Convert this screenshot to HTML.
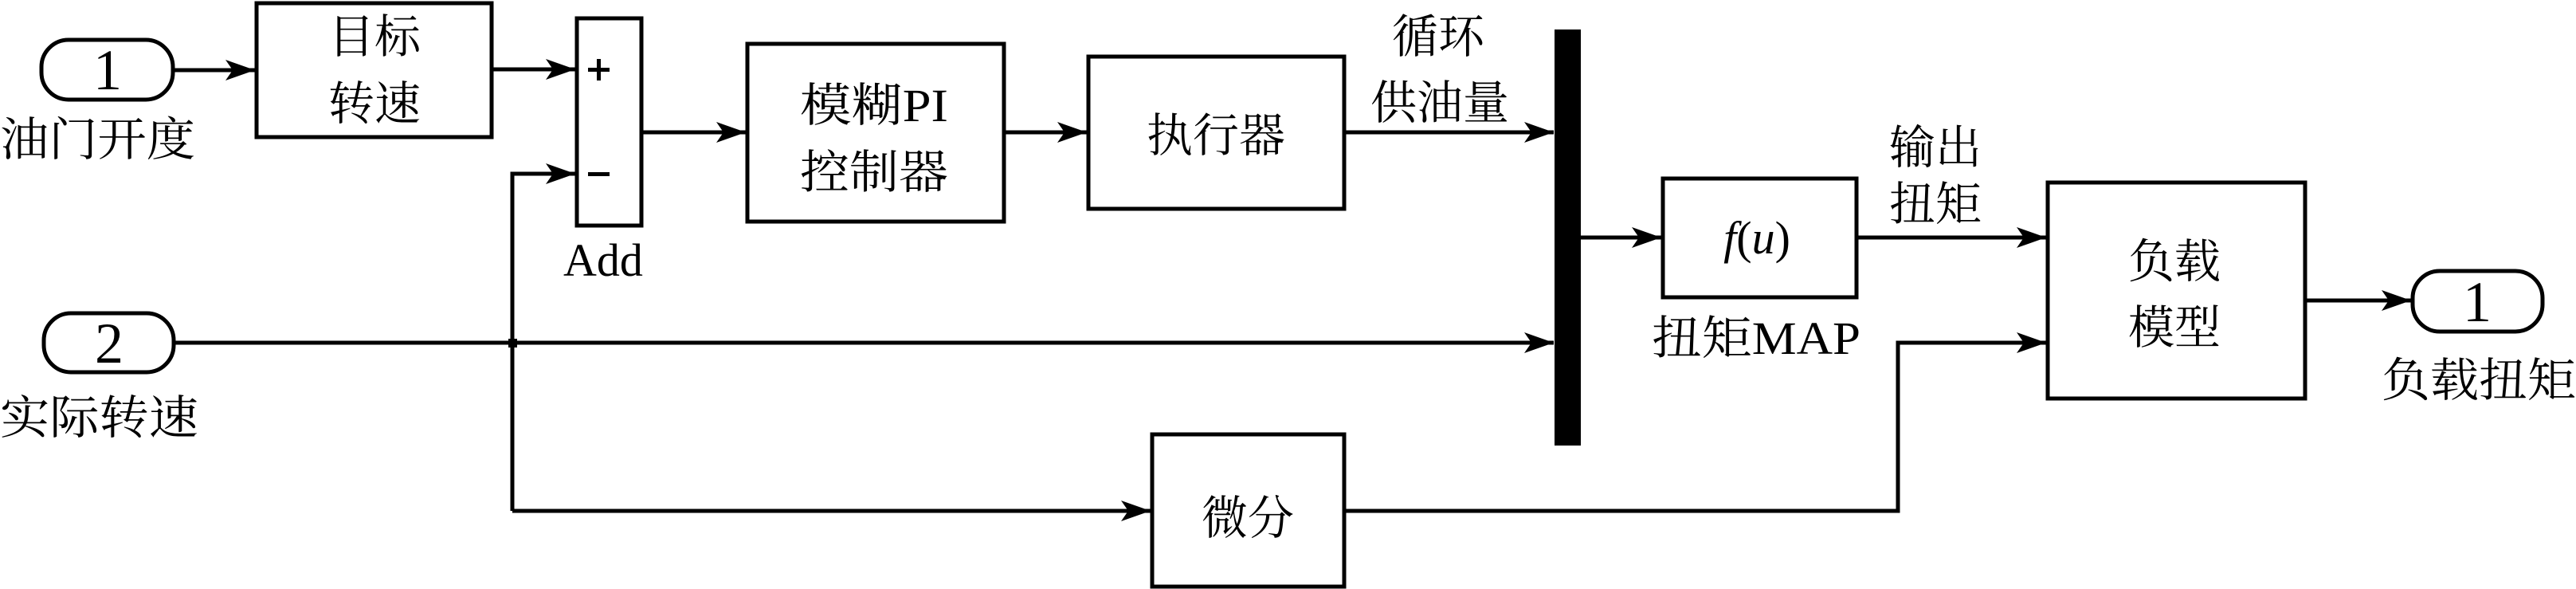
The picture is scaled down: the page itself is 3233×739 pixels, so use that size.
<!DOCTYPE html>
<html><head><meta charset="utf-8"><style>
html,body{margin:0;padding:0;background:#fff;}
svg{display:block;}
.c{font-family:"Liberation Serif","Noto Serif CJK SC",serif;font-size:58px;fill:#000;}
.n{font-family:"Liberation Serif",serif;font-size:72px;fill:#000;}
</style></head><body>
<svg width="3233" height="739" viewBox="0 0 3233 739" xmlns="http://www.w3.org/2000/svg">
<defs>
<marker id="a" markerWidth="38" markerHeight="28" refX="37" refY="14" orient="auto" markerUnits="userSpaceOnUse">
<path d="M0,1 L37,14 L0,27 L9,14 Z" fill="#000"/>
</marker>
</defs>
<g fill="none" stroke="#000" stroke-width="5">
<!-- inports / outport -->
<rect x="52" y="50" width="165" height="75" rx="34"/>
<rect x="55" y="393" width="163" height="74" rx="34"/>
<rect x="3028" y="340" width="163" height="76" rx="34"/>
<!-- boxes -->
<rect x="322" y="4" width="295" height="168"/>
<rect x="724" y="23" width="81" height="260"/>
<rect x="938" y="55" width="322" height="223"/>
<rect x="1366" y="71" width="321" height="191"/>
<rect x="2087" y="224" width="243" height="149"/>
<rect x="2570" y="229" width="323" height="271"/>
<rect x="1446" y="545" width="241" height="191"/>
<!-- lines -->
<line x1="217" y1="88" x2="320" y2="88" marker-end="url(#a)"/>
<line x1="617" y1="87" x2="722" y2="87" marker-end="url(#a)"/>
<polyline points="643,641 643,218 722,218" marker-end="url(#a)"/>
<line x1="805" y1="166" x2="936" y2="166" marker-end="url(#a)"/>
<line x1="1260" y1="166" x2="1364" y2="166" marker-end="url(#a)"/>
<line x1="1687" y1="166" x2="1950" y2="166" marker-end="url(#a)"/>
<line x1="218" y1="430" x2="1950" y2="430" marker-end="url(#a)"/>
<line x1="643" y1="641" x2="1444" y2="641" marker-end="url(#a)"/>
<line x1="1984" y1="298" x2="2085" y2="298" marker-end="url(#a)"/>
<line x1="2330" y1="298" x2="2568" y2="298" marker-end="url(#a)"/>
<polyline points="1687,641 2382,641 2382,430 2568,430" marker-end="url(#a)"/>
<line x1="2893" y1="377" x2="3026" y2="377" marker-end="url(#a)"/>
</g>
<rect x="638" y="425" width="11" height="11" fill="#000"/>
<rect x="1951" y="37" width="33" height="522" fill="#000"/>
<!-- plus/minus -->
<rect x="738" y="85" width="27" height="5" fill="#000"/>
<rect x="749" y="74" width="5" height="27" fill="#000"/>
<rect x="738" y="216" width="27" height="5" fill="#000"/>
<!-- numbers -->
<text class="n" x="135" y="112" text-anchor="middle">1</text>
<text class="n" x="137" y="455" text-anchor="middle">2</text>
<text class="n" x="3109" y="403" text-anchor="middle">1</text>
<!-- labels -->
<text class="c" x="0" y="195" textLength="245" lengthAdjust="spacingAndGlyphs">油门开度</text>
<text class="c" x="0" y="544" textLength="249" lengthAdjust="spacingAndGlyphs">实际转速</text>
<text class="c" x="470" y="66" text-anchor="middle">目标</text>
<text class="c" x="470" y="150" text-anchor="middle">转速</text>
<text class="c" x="757" y="346" text-anchor="middle">Add</text>
<text class="c" x="1004" y="152" textLength="186" lengthAdjust="spacingAndGlyphs">模糊PI</text>
<text class="c" x="1004" y="236" textLength="186" lengthAdjust="spacingAndGlyphs">控制器</text>
<text class="c" x="1526" y="190" text-anchor="middle">执行器</text>
<text class="c" x="1805" y="66" text-anchor="middle">循环</text>
<text class="c" x="1807" y="149" text-anchor="middle">供油量</text>
<text class="c" x="2205" y="318" text-anchor="middle" font-style="italic">f<tspan font-style="normal">(</tspan>u<tspan font-style="normal">)</tspan></text>
<text class="c" x="2073" y="444" textLength="262" lengthAdjust="spacingAndGlyphs">扭矩MAP</text>
<text class="c" x="2429" y="205" text-anchor="middle">输出</text>
<text class="c" x="2429" y="276" text-anchor="middle">扭矩</text>
<text class="c" x="2729" y="348" text-anchor="middle">负载</text>
<text class="c" x="2729" y="431" text-anchor="middle">模型</text>
<text class="c" x="1566" y="670" text-anchor="middle">微分</text>
<text class="c" x="2989" y="497" textLength="244" lengthAdjust="spacingAndGlyphs">负载扭矩</text>
</svg>
</body></html>
